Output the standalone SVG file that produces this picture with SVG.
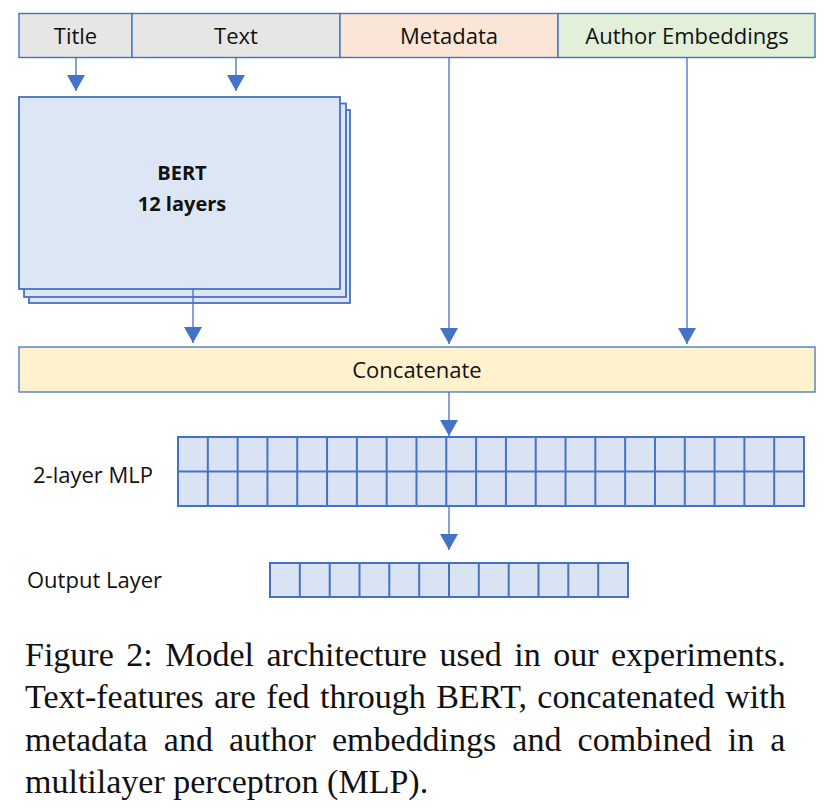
<svg xmlns="http://www.w3.org/2000/svg" width="826" height="810" viewBox="0 0 826 810">
<defs>
<style>
.lbl{font-family:"Open Sans","Noto Sans",sans-serif;font-size:22px;fill:#111;}
.bold{font-family:"Open Sans","Noto Sans",sans-serif;font-size:20px;font-weight:bold;fill:#111;}
.cap{font-family:"Liberation Serif","Times New Roman",serif;font-size:34px;fill:#111;}
.cell{stroke:#4472C4;stroke-width:1.4;}
.bert{fill:#DCE6F4;stroke:#4472C4;stroke-width:1.8;}
.grid{fill:#DAE3F3;stroke:#4472C4;stroke-width:2;}
.conn{stroke:#4472C4;stroke-width:1.3;fill:none;}
</style>
<marker id="arr" markerUnits="userSpaceOnUse" markerWidth="18" markerHeight="18" refX="16" refY="9" orient="auto">
<path d="M0,0 L16,9 L0,18 z" fill="#4472C4"/>
</marker>
<pattern id="cellsMLP" x="178" y="437" width="29.81" height="34.5" patternUnits="userSpaceOnUse">
<rect x="0" y="0" width="29.81" height="34.5" fill="none" stroke="#4472C4" stroke-width="2"/>
</pattern>
</defs>
<rect width="826" height="810" fill="#fff"/>

<g id="input-title">
<rect class="cell" x="19" y="13.5" width="113" height="44" fill="#E7E6E6"/>
<text class="lbl" x="75.5" y="43.5" text-anchor="middle">Title</text>
</g>
<g id="input-text">
<rect class="cell" x="132" y="13.5" width="208" height="44" fill="#E7E6E6"/>
<text class="lbl" x="236" y="43.5" text-anchor="middle">Text</text>
</g>
<g id="input-metadata">
<rect class="cell" x="340" y="13.5" width="218" height="44" fill="#FBE5D6"/>
<text class="lbl" x="449" y="43.5" text-anchor="middle">Metadata</text>
</g>
<g id="input-author">
<rect class="cell" x="558" y="13.5" width="257" height="44" fill="#E2F0D9"/>
<text class="lbl" x="687" y="43.5" text-anchor="middle">Author Embeddings</text>
</g>

<g id="bert">
<rect class="bert" x="29" y="110" width="321" height="193"/>
<rect class="bert" x="24" y="103.5" width="322" height="193.5"/>
<rect class="bert" x="19" y="97" width="321" height="192"/>
<text class="bold" x="182" y="180" text-anchor="middle">BERT</text>
<text class="bold" x="182" y="211" text-anchor="middle">12 layers</text>
</g>

<g id="concatenate">
<rect x="19" y="347" width="796" height="45" fill="#FFF2CC" stroke="#4472C4" stroke-width="1.3"/>
<text class="lbl" x="417" y="377.7" text-anchor="middle">Concatenate</text>
</g>

<g id="mlp">
<rect class="grid" x="178" y="437" width="626" height="69"/>
<rect x="178" y="437" width="626" height="69" fill="url(#cellsMLP)"/>
<rect x="178" y="437" width="626" height="69" fill="none" stroke="#4472C4" stroke-width="2"/>
<text class="lbl" x="33" y="483">2-layer MLP</text>
</g>

<g id="output-layer">
<rect class="grid" x="270" y="563" width="358" height="34"/>
<path d="M299.8,563V597M329.7,563V597M359.5,563V597M389.3,563V597M419.2,563V597M449,563V597M478.8,563V597M508.7,563V597M538.5,563V597M568.3,563V597M598.2,563V597" stroke="#4472C4" stroke-width="2" fill="none"/>
<text class="lbl" x="27" y="588">Output Layer</text>
</g>

<g id="connectors">
<line class="conn" x1="76" y1="57.5" x2="76" y2="91" marker-end="url(#arr)"/>
<line class="conn" x1="236" y1="57.5" x2="236" y2="91" marker-end="url(#arr)"/>
<line class="conn" x1="193" y1="289" x2="193" y2="343" marker-end="url(#arr)"/>
<line class="conn" x1="449" y1="57.5" x2="449" y2="344" marker-end="url(#arr)"/>
<line class="conn" x1="687" y1="57.5" x2="687" y2="344" marker-end="url(#arr)"/>
<line class="conn" x1="449" y1="392" x2="449" y2="436" marker-end="url(#arr)"/>
<line class="conn" x1="449" y1="506" x2="449" y2="550" marker-end="url(#arr)"/>
</g>

<g id="caption">
<text class="cap" x="25" y="665.5" word-spacing="4">Figure 2: Model architecture used in our experiments.</text>
<text class="cap" x="25" y="708" word-spacing="1.9">Text-features are fed through BERT, concatenated with</text>
<text class="cap" x="25" y="750.5" word-spacing="7.6">metadata and author embeddings and combined in a</text>
<text class="cap" x="25" y="793">multilayer perceptron (MLP).</text>
</g>
</svg>
